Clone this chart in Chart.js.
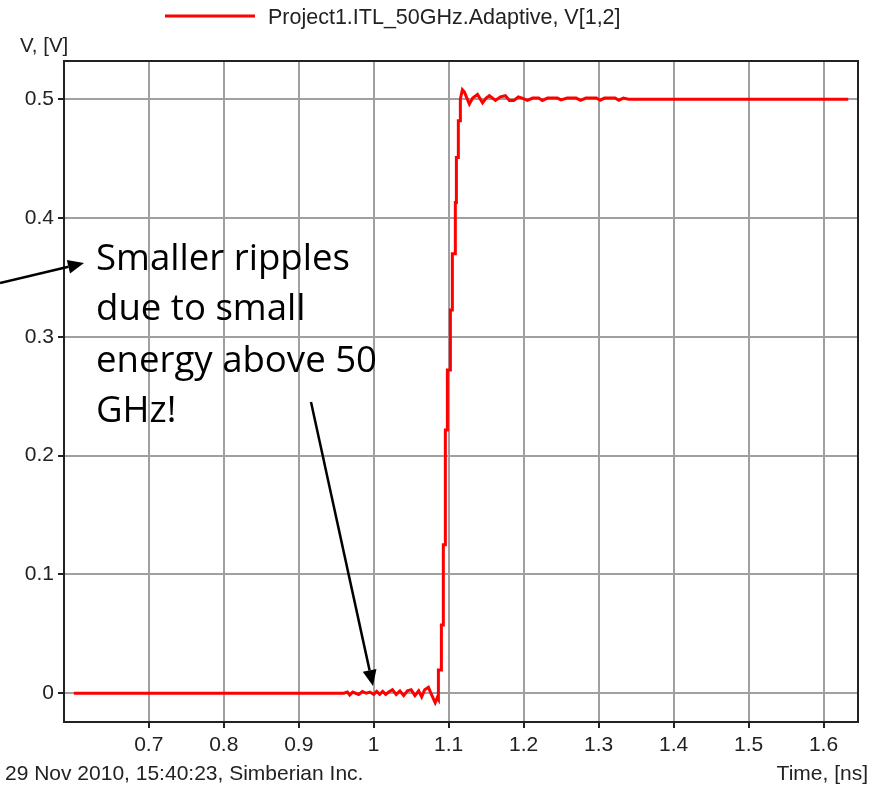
<!DOCTYPE html>
<html>
<head>
<meta charset="utf-8">
<script src="https://cdn.jsdelivr.net/npm/chart.js@4.4.1/dist/chart.umd.min.js"></script>
<style>
  html, body { margin: 0; padding: 0; background: #ffffff; }
  canvas { display: block; }
</style>
</head>
<body>
<canvas id="myChart" width="877" height="786"></canvas>
<script>
// time axis, ns
var timeNs = [
  0.600, 0.960, 0.965, 0.968, 0.972, 0.976, 0.980, 0.985, 0.990, 0.995,
  1.000, 1.004, 1.008, 1.012, 1.016, 1.020, 1.025, 1.030, 1.035, 1.040,
  1.045, 1.050, 1.055, 1.060, 1.064, 1.068, 1.073, 1.077, 1.082, 1.0845,
  1.0863, 1.0863, 1.0903, 1.0903, 1.0929, 1.0929, 1.0956, 1.0956, 1.0983, 1.0983,
  1.1023, 1.1023, 1.1049, 1.1049, 1.1089, 1.1089, 1.1103, 1.1103, 1.1129, 1.1129,
  1.1156, 1.1156, 1.1183, 1.121, 1.1276, 1.132, 1.1385, 1.1452,
  1.150, 1.1543, 1.1625, 1.169, 1.1757, 1.181, 1.187, 1.193, 1.198, 1.205,
  1.212, 1.220, 1.225, 1.232, 1.245, 1.250, 1.258, 1.270, 1.276, 1.283,
  1.297, 1.302, 1.308, 1.322, 1.327, 1.333, 1.340, 1.633
];
// V[1,2], volts
var voltage = [
  0, 0, 0.001, -0.0015, 0.001, 0, -0.001, 0.0015, 0, 0.001,
  -0.001, 0.0015, -0.001, 0.0015, -0.001, 0.001, 0.003, -0.001, 0.002, -0.002,
  0.002, 0.003, -0.002, 0.002, -0.003, 0.003, 0.005, -0.001, -0.008, -0.004,
  -0.0056, 0.0196, 0.0196, 0.0575, 0.0575, 0.125, 0.125, 0.2216, 0.2216, 0.272,
  0.272, 0.3226, 0.3226, 0.370, 0.370, 0.413, 0.413, 0.451, 0.451, 0.482,
  0.482, 0.500, 0.508, 0.506, 0.496, 0.501, 0.504, 0.497,
  0.501, 0.503, 0.499, 0.502, 0.503, 0.499, 0.499, 0.502, 0.501, 0.499,
  0.501, 0.501, 0.499, 0.501, 0.501, 0.4995, 0.501, 0.501, 0.499, 0.501,
  0.501, 0.4992, 0.501, 0.501, 0.4992, 0.501, 0.500, 0.500
];
var xTicks = [0.7, 0.8, 0.9, 1.0, 1.1, 1.2, 1.3, 1.4, 1.5, 1.6];
var yTicks = [0, 0.1, 0.2, 0.3, 0.4, 0.5];
var seriesName = "Project1.ITL_50GHz.Adaptive, V[1,2]";
var noteLines = ["Smaller ripples", "due to small", "energy above 50", "GHz!"];

var points = timeNs.map(function (t, i) {
  return { x: t, y: voltage[i] };
});

function arrow(ctx, x1, y1, x2, y2) {
  var a = Math.atan2(y2 - y1, x2 - x1);
  var len = 16, half = 7;
  var bx = x2 - len * Math.cos(a), by = y2 - len * Math.sin(a);
  ctx.beginPath();
  ctx.moveTo(x1, y1);
  ctx.lineTo(bx, by);
  ctx.stroke();
  ctx.beginPath();
  ctx.moveTo(x2, y2);
  ctx.lineTo(bx + half * Math.sin(a), by - half * Math.cos(a));
  ctx.lineTo(bx - half * Math.sin(a), by + half * Math.cos(a));
  ctx.closePath();
  ctx.fill();
}

var extras = {
  id: "extras",
  afterDraw: function (chart) {
    var ctx = chart.ctx;
    var a = chart.chartArea;
    ctx.save();
    // frame
    ctx.strokeStyle = "#222222";
    ctx.lineWidth = 2;
    ctx.strokeRect(a.left, a.top, a.right - a.left, a.bottom - a.top);

    // legend
    ctx.strokeStyle = "#ff0000";
    ctx.lineWidth = 3;
    ctx.beginPath();
    ctx.moveTo(165, 16);
    ctx.lineTo(255, 16);
    ctx.stroke();
    ctx.fillStyle = "#222222";
    ctx.font = "21.5px 'Liberation Sans', Arial, sans-serif";
    ctx.textBaseline = "alphabetic";
    ctx.textAlign = "left";
    ctx.fillText(seriesName, 268, 24);

    // axis titles and footer
    ctx.font = "20.5px 'Liberation Sans', Arial, sans-serif";
    ctx.fillText("V, [V]", 20, 52);
    ctx.font = "21px 'Liberation Sans', Arial, sans-serif";
    ctx.fillText("29 Nov 2010, 15:40:23, Simberian Inc.", 5, 780);
    ctx.textAlign = "right";
    ctx.fillText("Time, [ns]", 868, 780);

    // annotation
    ctx.textAlign = "left";
    ctx.font = "34px 'Open Sans', sans-serif";
    var w = ctx.measureText(noteLines[0]).width;
    var size = 34 * 254 / w;
    ctx.font = size.toFixed(1) + "px 'Open Sans', sans-serif";
    ctx.fillStyle = "#000000";
    var baselines = [270, 320, 372, 422];
    noteLines.forEach(function (s, i) {
      ctx.fillText(s, 96, baselines[i]);
    });

    ctx.strokeStyle = "#000000";
    ctx.fillStyle = "#000000";
    ctx.lineWidth = 2.5;
    arrow(ctx, 0, 283, 84, 263);
    arrow(ctx, 311, 402, 373, 686);
    ctx.restore();
  },
};

var ctx = document.getElementById("myChart").getContext("2d");
var myChart = new Chart(ctx, {
  type: "line",
  data: {
    datasets: [
      {
        label: seriesName,
        data: points,
        borderColor: "#ff0000",
        borderWidth: 3,
        pointRadius: 0,
        tension: 0,
        fill: false,
      },
    ],
  },
  options: {
    responsive: false,
    animation: false,
    layout: {
      padding: { top: 61, right: 19, bottom: 0, left: 0 },
    },
    plugins: {
      legend: { display: false },
      tooltip: { enabled: false },
    },
    scales: {
      x: {
        type: "linear",
        min: 0.5869,
        max: 1.646,
        afterBuildTicks: function (scale) {
          scale.ticks = xTicks.map(function (v) { return { value: v }; });
        },
        afterFit: function (scale) {
          scale.height = 64;
        },
        border: { display: false },
        grid: {
          color: "#a0a0a0",
          lineWidth: 2,
          tickLength: 6,
          tickColor: "#222222",
        },
        ticks: {
          color: "#222222",
          font: { family: "'Liberation Sans', Arial, sans-serif", size: 21 },
          padding: 5,
          maxRotation: 0,
          autoSkip: false,
          callback: function (v) { return String(Math.round(v * 10) / 10); },
        },
      },
      y: {
        type: "linear",
        min: -0.0242,
        max: 0.5322,
        afterBuildTicks: function (scale) {
          scale.ticks = yTicks.map(function (v) { return { value: v }; });
        },
        afterFit: function (scale) {
          scale.width = 64;
        },
        border: { display: false },
        grid: {
          color: "#a0a0a0",
          lineWidth: 2,
          tickLength: 6,
          tickColor: "#222222",
        },
        ticks: {
          color: "#222222",
          font: { family: "'Liberation Sans', Arial, sans-serif", size: 21 },
          padding: 4,
          autoSkip: false,
          callback: function (v) { return String(Math.round(v * 10) / 10); },
        },
      },
    },
  },
  plugins: [extras],
});
</script>
</body>
</html>
